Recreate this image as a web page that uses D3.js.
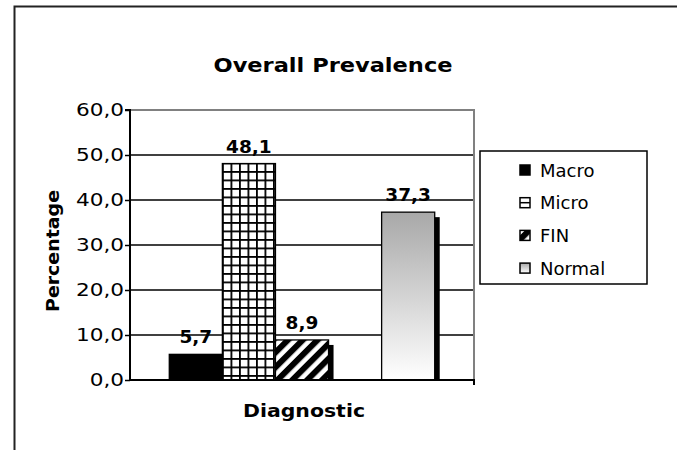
<!DOCTYPE html>
<html>
<head>
<meta charset="utf-8">
<script src="https://cdn.jsdelivr.net/npm/d3@7"></script>
<style>
  body { margin: 0; background: #fff; }
  text { font-family: "DejaVu Sans", Verdana, sans-serif; }
</style>
</head>
<body>
<div id="chart"></div>
<script>
// data
const seriesNames = ["Macro", "Micro", "FIN", "Normal"];
const seriesValues = [5.7, 48.1, 8.9, 37.3];
const yTicks = [0, 10, 20, 30, 40, 50, 60];
const chartTitle = "Overall Prevalence";
const xTitle = "Diagnostic";
const yTitle = "Percentage";

let W = 677, H = 450;
let plot = {left: 130, top: 110, right: 474, bottom: 380};

const locale = d3.formatLocale({decimal: ",", thousands: ".", grouping: [3], currency: ["", ""]});
const fmt = locale.format(".1f");

let svg = d3.select("#chart").append("svg")
    .attr("width", W)
    .attr("height", H);

// patterns / gradient
let defs = svg.append("defs");

let grid = defs.append("pattern")
    .attr("id", "grid")
    .attr("patternUnits", "userSpaceOnUse")
    .attr("x", 1).attr("y", 1)
    .attr("width", 8.5).attr("height", 8.5);
grid.append("rect").attr("width", 8.5).attr("height", 8.5).attr("fill", "#fff");
grid.append("rect").attr("x", 0).attr("y", 0).attr("width", 1.8).attr("height", 8.5).attr("fill", "#000");
grid.append("rect").attr("x", 0).attr("y", 0).attr("width", 8.5).attr("height", 1.8).attr("fill", "#000");

let stripes = defs.append("pattern")
    .attr("id", "stripes")
    .attr("patternUnits", "userSpaceOnUse")
    .attr("width", 10.5).attr("height", 10.5)
    .attr("patternTransform", "rotate(45)");
stripes.append("rect").attr("width", 10.5).attr("height", 10.5).attr("fill", "#fff");
stripes.append("rect").attr("width", 6).attr("height", 10.5).attr("fill", "#000");

let grad = defs.append("linearGradient")
    .attr("id", "grey")
    .attr("x1", 0).attr("y1", 0).attr("x2", 0).attr("y2", 1);
grad.append("stop").attr("offset", "0%").attr("stop-color", "#a8a8a8");
grad.append("stop").attr("offset", "100%").attr("stop-color", "#ffffff");

const fills = {Macro: "#000", Micro: "url(#grid)", FIN: "url(#stripes)", Normal: "url(#grey)"};
const noShadow = ["Micro"];

// outer frame
svg.append("rect")
    .attr("x", 14.5).attr("y", 6.5)
    .attr("width", 700).attr("height", 500)
    .attr("fill", "none")
    .attr("stroke", "#222")
    .attr("stroke-width", 2);

// scales
let yScale = d3.scaleLinear()
    .domain([0, 60])
    .range([plot.bottom, plot.top]);

// one empty slot between FIN and Normal
let slots = seriesNames.slice(0, 3).concat(["_gap"], seriesNames.slice(3));
let xScale = d3.scaleBand()
    .domain(slots)
    .range([plot.left, plot.right])
    .paddingInner(0)
    .paddingOuter(0.74);

// gridlines
svg.append("g")
    .selectAll("line")
    .data(yTicks.filter(d => d > 0 && d < 60))
    .join("line")
    .attr("x1", plot.left).attr("x2", plot.right)
    .attr("y1", d => yScale(d)).attr("y2", d => yScale(d))
    .attr("stroke", "#000")
    .attr("stroke-width", 1.3);

// plot border top / right (grey)
svg.append("path")
    .attr("d", `M${plot.left},${plot.top}H${plot.right}V${plot.bottom}`)
    .attr("fill", "none")
    .attr("stroke", "#808080")
    .attr("stroke-width", 2);

// bars
let data = seriesNames.map((name, i) => ({name: name, value: seriesValues[i]}));
let bw = xScale.bandwidth();

let bars = svg.append("g").selectAll(".bar")
    .data(data)
    .join("g")
    .attr("class", "bar");

// shadow
bars.filter(d => !noShadow.includes(d.name)).append("rect")
    .attr("x", d => xScale(d.name) + 5)
    .attr("y", d => yScale(d.value) + 5)
    .attr("width", bw)
    .attr("height", d => plot.bottom - yScale(d.value) - 5)
    .attr("fill", "#000");

bars.append("rect")
    .attr("x", d => xScale(d.name))
    .attr("y", d => yScale(d.value))
    .attr("width", bw)
    .attr("height", d => plot.bottom - yScale(d.value))
    .attr("fill", d => fills[d.name])
    .attr("stroke", "#000")
    .attr("stroke-width", 1.3);

bars.append("text")
    .attr("x", d => xScale(d.name) + bw / 2)
    .attr("y", d => yScale(d.value) - 11)
    .attr("text-anchor", "middle")
    .attr("font-size", "18.5px")
    .attr("font-weight", "bold")
    .text(d => fmt(d.value));

// y axis
let yAxis = d3.axisLeft(yScale).tickValues(yTicks).tickSize(5).tickPadding(4).tickFormat(fmt);
svg.append("g")
    .attr("transform", `translate(${plot.left},0)`)
    .call(yAxis)
    .call(g => g.select(".domain").attr("stroke", "#000").attr("stroke-width", 2).attr("d", `M-5,${plot.top}H0V${plot.bottom}`))
    .call(g => g.selectAll(".tick line").attr("stroke-width", 1.5))
    .call(g => g.selectAll("text")
        .attr("x", 0)
        .attr("transform", "translate(-6,0) scale(1.2,1)")
        .attr("font-size", "18px").attr("fill", "#000")
        .style("font-family", "'DejaVu Sans', Verdana, sans-serif"));

// x axis line
svg.append("path")
    .attr("d", `M${plot.left},${plot.bottom}H${plot.right}V${plot.bottom + 5}`)
    .attr("fill", "none")
    .attr("stroke", "#000")
    .attr("stroke-width", 2);

// titles
svg.append("text")
    .attr("x", 333).attr("y", 72)
    .attr("text-anchor", "middle")
    .attr("font-size", "20px")
    .attr("font-weight", "bold")
    .attr("textLength", 239)
    .attr("lengthAdjust", "spacingAndGlyphs")
    .text(chartTitle);

svg.append("text")
    .attr("x", 304).attr("y", 417)
    .attr("text-anchor", "middle")
    .attr("font-size", "18px")
    .attr("font-weight", "bold")
    .attr("textLength", 122)
    .attr("lengthAdjust", "spacingAndGlyphs")
    .text(xTitle);

svg.append("text")
    .attr("transform", "translate(59,251) rotate(-90)")
    .attr("text-anchor", "middle")
    .attr("font-size", "18px")
    .attr("font-weight", "bold")
    .attr("textLength", 122)
    .attr("lengthAdjust", "spacingAndGlyphs")
    .text(yTitle);

// legend
let legend = svg.append("g");
legend.append("rect")
    .attr("x", 480).attr("y", 151)
    .attr("width", 167).attr("height", 133)
    .attr("fill", "#fff")
    .attr("stroke", "#000")
    .attr("stroke-width", 1.5);

let item = legend.selectAll(".item")
    .data(seriesNames)
    .join("g")
    .attr("class", "item")
    .attr("transform", (d, i) => `translate(520,${170 + i * 32.7})`);

item.append("rect")
    .attr("x", 0).attr("y", -5)
    .attr("width", 10).attr("height", 10)
    .attr("fill", d => d == "Micro" ? "#fff" : fills[d])
    .attr("stroke", "#000")
    .attr("stroke-width", 1.5);

item.filter(d => d == "Micro").append("line")
    .attr("x1", 0).attr("x2", 10).attr("y1", 0).attr("y2", 0)
    .attr("stroke", "#000").attr("stroke-width", 1.5);

item.append("text")
    .attr("x", 20).attr("y", 6.5)
    .attr("font-size", "18px")
    .text(d => d);
</script>
</body>
</html>
